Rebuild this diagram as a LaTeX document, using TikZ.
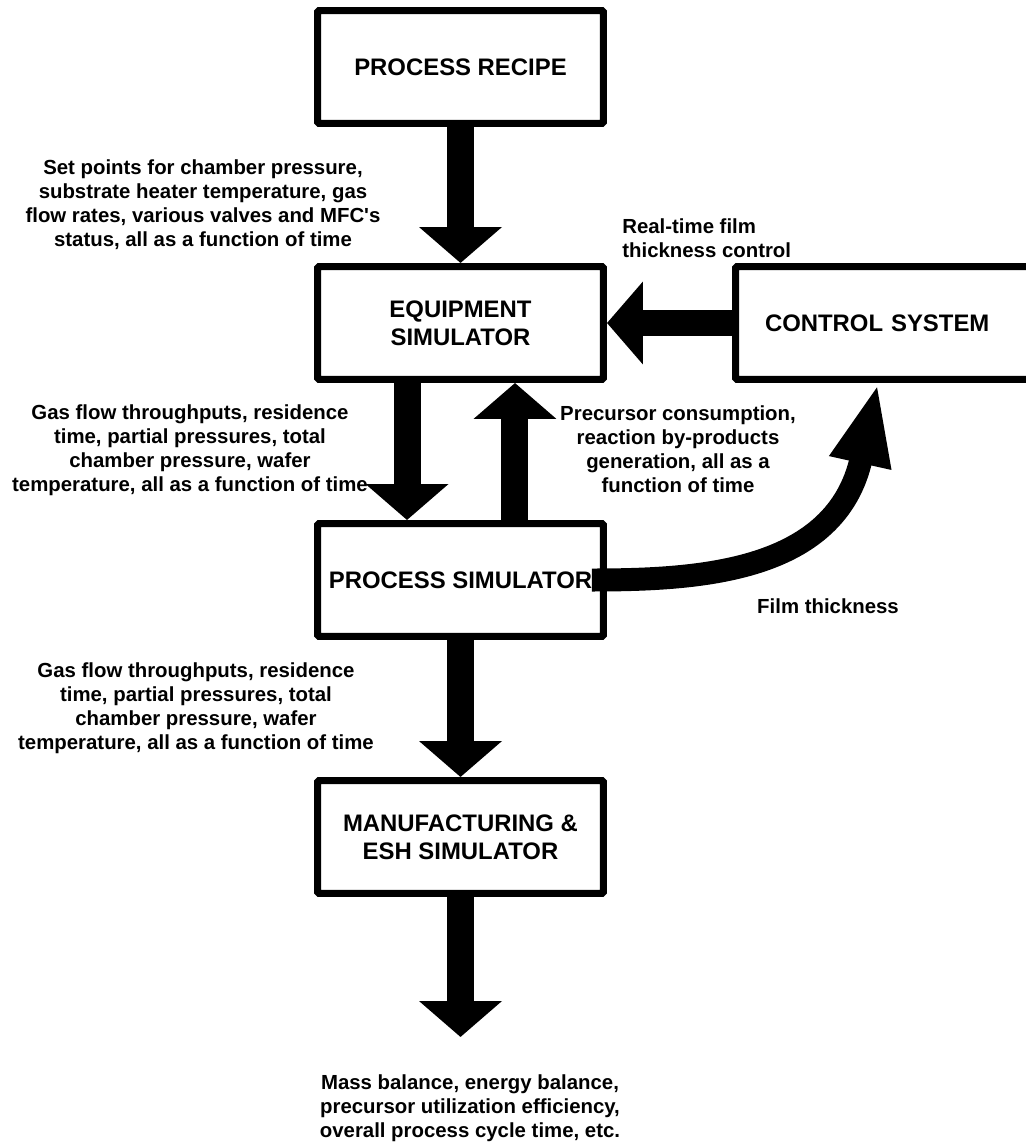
\documentclass[tikz,border=0pt]{standalone}
\usepackage{fontspec}
\setmainfont{Liberation Sans}
\usetikzlibrary{arrows.meta,positioning}

\begin{document}
\begin{tikzpicture}[
    x=0.02cm, y=-0.02cm,
    block/.style={
        rectangle, draw, line width=0.14cm, rounded corners=0.03cm,
        minimum width=5.72cm, minimum height=2.26cm,
        align=center, font=\fontsize{13.6}{15.9}\selectfont\bfseries
    },
    note/.style={
        align=center, inner sep=0pt,
        font=\fontsize{11.6}{13.6}\selectfont\bfseries
    },
    flow/.style={line width=0.54cm, -{Triangle[width=1.62cm,length=0.72cm]}}
]
    \useasboundingbox (0,0) rectangle (1026,1142);

    \node[block] (recipe) at (460.5,67) {PROCESS RECIPE};
    \node[block] (equip) at (460.5,323) {EQUIPMENT\\SIMULATOR};
    \node[block] (procsim) at (460.5,580) {PROCESS SIMULATOR};
    \node[block] (mfg) at (460.5,837) {MANUFACTURING \&\\ESH SIMULATOR};
    \node[block,anchor=west,text width=5cm,align=left,inner xsep=0.59cm] (ctrl) at (732,323) {CONTROL SYSTEM};
    \coordinate (out) at (460.5,1037);

    % Descriptions
    \node[note] (setpts) at (203,205) {Set points for chamber pressure,\\substrate heater temperature, gas\\flow rates, various valves and MFC\textquotesingle s\\status, all as a function of time};
    \node[note,align=left,anchor=west] (realtime) at (622,238) {Real-time film\\thickness control};
    \node[note] (gasin) at (190,450) {Gas flow throughputs, residence\\time, partial pressures, total\\chamber pressure, wafer\\temperature, all as a function of time};
    \node[note] (precursor) at (678,449) {Precursor consumption,\\reaction by-products\\generation, all as a\\function of time};
    \node[note] (film) at (828,606) {Film thickness};
    \node[note] (gasout) at (196,708) {Gas flow throughputs, residence\\time, partial pressures, total\\chamber pressure, wafer\\temperature, all as a function of time};
    \node[note] (balance) at (470,1108) {Mass balance, energy balance,\\precursor utilization efficiency,\\overall process cycle time, etc.};

    % Arrows
    \foreach \a/\b in {recipe/equip,procsim/mfg,mfg/out,ctrl/equip} {
        \draw[flow] (\a) -- (\b);
    }
    \draw[flow] ([xshift=-1.07cm]equip.south) -- ([xshift=-1.07cm]procsim.north);
    \draw[flow] ([xshift=1.09cm]procsim.north) -- ([xshift=1.09cm]equip.south);
    \draw[line width=0.46cm,-{Triangle[width=1.14cm,length=1.64cm]}]
        ([xshift=-0.3cm]procsim.east) .. controls (700,580) and (836,572) .. ([xshift=-0.24cm]ctrl.south);
\end{tikzpicture}
\end{document}
